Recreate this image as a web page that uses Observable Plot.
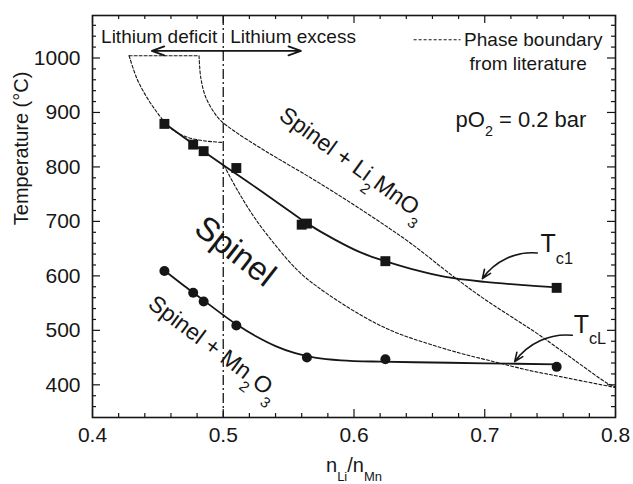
<!DOCTYPE html>
<html>
<head>
<meta charset="utf-8">
<script src="https://cdn.jsdelivr.net/npm/d3@7"></script>
<script src="https://cdn.jsdelivr.net/npm/@observablehq/plot@0.6"></script>
<style>
  html, body { margin: 0; padding: 0; background: #fff; }
  #chart { width: 633px; height: 484px; }
</style>
</head>
<body>
<div id="chart"></div>
<script>
// ---------- data ----------
// Tc1 measurements (squares)
const tc1X = [0.455, 0.477, 0.485, 0.510, 0.560, 0.564, 0.624, 0.755];
const tc1Y = [879, 841, 829, 798, 694, 696, 627, 578];
// TcL measurements (circles)
const tcLX = [0.455, 0.477, 0.485, 0.510, 0.564, 0.624, 0.755];
const tcLY = [609, 569, 553, 509, 450, 447, 433];
// fitted guide curves
const tc1FitX = [0.455, 0.47, 0.49, 0.51, 0.53, 0.55, 0.565, 0.585, 0.605, 0.625, 0.645, 0.67, 0.70, 0.73, 0.7555];
const tc1FitY = [880, 854, 820, 787, 754, 720, 695, 667, 643, 626, 612, 598, 589, 583, 579];
const tcLFitX = [0.455, 0.47, 0.485, 0.50, 0.51, 0.525, 0.54, 0.555, 0.57, 0.59, 0.62, 0.66, 0.70, 0.7555];
const tcLFitY = [610, 582, 555, 528, 511, 489, 471, 458, 450, 445, 442.5, 441, 439.5, 437.5];
// phase boundaries from literature (dashed)
const litTopX = [0.428, 0.4815];
const litTopY = [1004, 1004];
const litLeftX = [0.428, 0.434, 0.441, 0.447, 0.454, 0.462, 0.472, 0.485, 0.4995];
const litLeftY = [1004, 962, 930, 908, 886, 867, 855, 848, 845];
const litUpperX = [0.4815, 0.4828, 0.4866, 0.493, 0.4981, 0.5083, 0.5236, 0.5414, 0.5669, 0.5924, 0.6179, 0.6433, 0.6765, 0.70, 0.7223, 0.7402, 0.7682, 0.7937, 0.80];
const litUpperY = [1004, 964, 928, 900, 885, 866, 842, 816, 780, 742, 702, 660, 598, 557, 522, 494, 446, 403, 396];
const litLowerX = [0.5006, 0.5109, 0.5236, 0.5389, 0.5567, 0.572, 0.6052, 0.6306, 0.6561, 0.6815, 0.707, 0.7325, 0.758, 0.7963, 0.80];
const litLowerY = [802.7, 757, 708, 659.3, 610.4, 580, 528, 497.4, 476, 457.9, 442.5, 427.3, 415, 396.7, 395];
// axis ticks
const xMajor = [0.4, 0.5, 0.6, 0.7, 0.8];
const xMinor = [0.42, 0.44, 0.46, 0.48, 0.52, 0.54, 0.56, 0.58, 0.62, 0.64, 0.66, 0.68, 0.72, 0.74, 0.76, 0.78];
const yMajor = [400, 500, 600, 700, 800, 900, 1000];
const yMinor = [360, 380, 420, 440, 460, 480, 520, 540, 560, 580, 620, 640, 660, 680, 720, 740, 760, 780, 820, 840, 860, 880, 920, 940, 960, 980, 1020, 1040, 1060];
// stoichiometric boundary
const stoichX = [0.5];
// annotations
const regionText = ["Spinel + Li_{2}MnO_{3}", "Spinel", "Spinel + Mn_{2}O_{3}"];
const regionX = [0.599, 0.509, 0.4927];
const regionY = [806, 645, 468];
const sideText = ["Lithium deficit", "Lithium excess"];
const sideX = [0.5, 0.5];
const sideY = [1038, 1038];
const sideArrowX = [0.4454, 0.5594];
const sideArrowY = [1013, 1013];
const legendLineX = [0.6456, 0.6815];
const legendLineY = [1033.5, 1033.5];
const legendText = ["Phase boundary", "from literature"];
const legendTextX = [0.6842, 0.7332];
const legendTextY = [1033.5, 989];
const pO2Text = ["pO_{2} = 0.2 bar"];
const pO2X = [0.7277];
const pO2Y = [887];
const curveLabel = ["T_{c1}", "T_{cL}"];
const curveLabelX = [0.7427, 0.768];
const curveLabelY = [658, 510];
const curveArrowX1 = [0.7402, 0.767];
const curveArrowY1 = [642, 491];
const curveArrowX2 = [0.6982, 0.7229];
const curveArrowY2 = [595, 442.5];
const xTitle = ["n_{Li}/n_{Mn}"];
const yTitle = ["Temperature (°C)"];
const yTitleY = [693];

// ---------- layout ----------
const W = 633, H = 484;
const mt = 15, mr = 18, mb = 67, ml = 92;
const innerW = W - ml - mr, innerH = H - mt - mb;
const ink = "#161616";

const zip = (xs, ys) => xs.map((x, i) => ({x, y: ys[i]}));
const one = [0];
const dash = {stroke: ink, strokeWidth: 1.1, strokeDasharray: "3,2"};

const chart = Plot.plot({
  width: W, height: H,
  marginTop: mt, marginRight: mr, marginBottom: mb, marginLeft: ml,
  x: {domain: [0.4, 0.8]},
  y: {domain: [340, 1078]},
  style: {fontFamily: "'Liberation Sans', Arial, Helvetica, sans-serif", color: ink, background: "#fff", overflow: "visible"},
  marks: [
    // inward ticks on all four sides
    Plot.tickX(xMinor, {x: d => d, insetTop: innerH - 4, stroke: ink, strokeWidth: 1.2}),
    Plot.tickX(xMajor, {x: d => d, insetTop: innerH - 8, stroke: ink, strokeWidth: 1.2}),
    Plot.tickX(xMinor, {x: d => d, insetBottom: innerH - 4, stroke: ink, strokeWidth: 1.2}),
    Plot.tickX(xMajor, {x: d => d, insetBottom: innerH - 8, stroke: ink, strokeWidth: 1.2}),
    Plot.tickY(yMinor, {y: d => d, insetRight: innerW - 4, stroke: ink, strokeWidth: 1.2}),
    Plot.tickY(yMajor, {y: d => d, insetRight: innerW - 8, stroke: ink, strokeWidth: 1.2}),
    Plot.tickY(yMinor, {y: d => d, insetLeft: innerW - 4, stroke: ink, strokeWidth: 1.2}),
    Plot.tickY(yMajor, {y: d => d, insetLeft: innerW - 8, stroke: ink, strokeWidth: 1.2}),
    Plot.axisX({ticks: xMajor, tickSize: 0, tickPadding: 10, tickFormat: d => d.toFixed(1), fontSize: 21, label: null}),
    Plot.axisY({ticks: yMajor, tickSize: 0, tickPadding: 12, tickFormat: d => String(d), fontSize: 21, label: null}),
    // stoichiometry line
    Plot.ruleX(stoichX, {stroke: ink, strokeWidth: 1.3, strokeDasharray: "10,3,2,3"}),
    // literature phase boundaries
    Plot.line(zip(litTopX, litTopY), {x: "x", y: "y", ...dash}),
    Plot.line(zip(litLeftX, litLeftY), {x: "x", y: "y", curve: "catmull-rom", ...dash}),
    Plot.line(zip(litUpperX, litUpperY), {x: "x", y: "y", curve: "catmull-rom", ...dash}),
    Plot.line(zip(litLowerX, litLowerY), {x: "x", y: "y", curve: "catmull-rom", ...dash}),
    // fitted guide curves
    Plot.line(zip(tc1FitX, tc1FitY), {x: "x", y: "y", curve: "catmull-rom", stroke: ink, strokeWidth: 1.8}),
    Plot.line(zip(tcLFitX, tcLFitY), {x: "x", y: "y", curve: "catmull-rom", stroke: ink, strokeWidth: 1.8}),
    // measurements
    Plot.dot(zip(tc1X, tc1Y), {x: "x", y: "y", symbol: "square", r: 5.6, fill: ink, stroke: "none"}),
    Plot.dot(zip(tcLX, tcLY), {x: "x", y: "y", symbol: "circle", r: 5, fill: ink, stroke: "none"}),
    // region labels
    Plot.text(one, {x: regionX[0], y: regionY[0], text: [regionText[0]], rotate: 36, fontSize: 23, fill: ink}),
    Plot.text(one, {x: regionX[1], y: regionY[1], text: [regionText[1]], rotate: 38, fontSize: 33, fill: ink}),
    Plot.text(one, {x: regionX[2], y: regionY[2], text: [regionText[2]], rotate: 37, fontSize: 23, fill: ink}),
    // lithium deficit / excess
    Plot.text(one, {x: sideX[0], y: sideY[0], text: [sideText[0]], textAnchor: "end", dx: -6, fontSize: 19, fill: ink}),
    Plot.text(one, {x: sideX[1], y: sideY[1], text: [sideText[1]], textAnchor: "start", dx: 7, fontSize: 19, fill: ink}),
    Plot.arrow(one, {x1: stoichX[0], y1: sideArrowY[0], x2: sideArrowX[0], y2: sideArrowY[0], stroke: ink, strokeWidth: 1.8, headLength: 11, headAngle: 40}),
    Plot.arrow(one, {x1: stoichX[0], y1: sideArrowY[1], x2: sideArrowX[1], y2: sideArrowY[1], stroke: ink, strokeWidth: 1.8, headLength: 11, headAngle: 40}),
    // legend
    Plot.link(one, {x1: legendLineX[0], x2: legendLineX[1], y1: legendLineY[0], y2: legendLineY[1], ...dash}),
    Plot.text(one, {x: legendTextX[0], y: legendTextY[0], text: [legendText[0]], textAnchor: "start", fontSize: 19, fill: ink}),
    Plot.text(one, {x: legendTextX[1], y: legendTextY[1], text: [legendText[1]], fontSize: 19, fill: ink}),
    Plot.text(one, {x: pO2X[0], y: pO2Y[0], text: pO2Text, fontSize: 22, fill: ink}),
    // curve labels + arrows
    Plot.text(one, {x: curveLabelX[0], y: curveLabelY[0], text: [curveLabel[0]], textAnchor: "start", fontSize: 25, fill: ink}),
    Plot.text(one, {x: curveLabelX[1], y: curveLabelY[1], text: [curveLabel[1]], textAnchor: "start", fontSize: 25, fill: ink}),
    Plot.arrow(one, {x1: curveArrowX1[0], y1: curveArrowY1[0], x2: curveArrowX2[0], y2: curveArrowY2[0], bend: -30, stroke: ink, strokeWidth: 1.6, headLength: 9, headAngle: 45}),
    Plot.arrow(one, {x1: curveArrowX1[1], y1: curveArrowY1[1], x2: curveArrowX2[1], y2: curveArrowY2[1], bend: -30, stroke: ink, strokeWidth: 1.6, headLength: 9, headAngle: 45}),
    // axis titles
    Plot.text(one, {frameAnchor: "bottom", text: xTitle, dy: 54, fontSize: 20, fill: ink}),
    Plot.text(one, {y: yTitleY[0], frameAnchor: "left", text: yTitle, dx: -71, rotate: -90, fontSize: 20, fill: ink}),
    Plot.frame({stroke: ink, strokeWidth: 1.6})
  ]
});

document.getElementById("chart").appendChild(chart);

// ---------- turn _{...} markup into real subscript tspans ----------
const SVGNS = "http://www.w3.org/2000/svg";
chart.querySelectorAll("text").forEach(t => {
  const leaves = t.querySelector("tspan") ? [...t.querySelectorAll("tspan")] : [t];
  leaves.forEach(el => {
    const s = el.textContent;
    if (!s.includes("_{")) return;
    const fs = parseFloat(getComputedStyle(el).fontSize) || 16;
    const shift = 0.45 * fs;
    el.textContent = "";
    let down = false;
    s.split(/(_\{[^}]*\})/).forEach(p => {
      if (!p) return;
      const ts = document.createElementNS(SVGNS, "tspan");
      if (p.startsWith("_{")) {
        ts.textContent = p.slice(2, -1);
        ts.setAttribute("font-size", (0.65 * fs) + "px");
        if (!down) { ts.setAttribute("dy", shift); down = true; }
      } else {
        ts.textContent = p;
        if (down) { ts.setAttribute("dy", -shift); down = false; }
      }
      el.appendChild(ts);
    });
  });
});
</script>
</body>
</html>
